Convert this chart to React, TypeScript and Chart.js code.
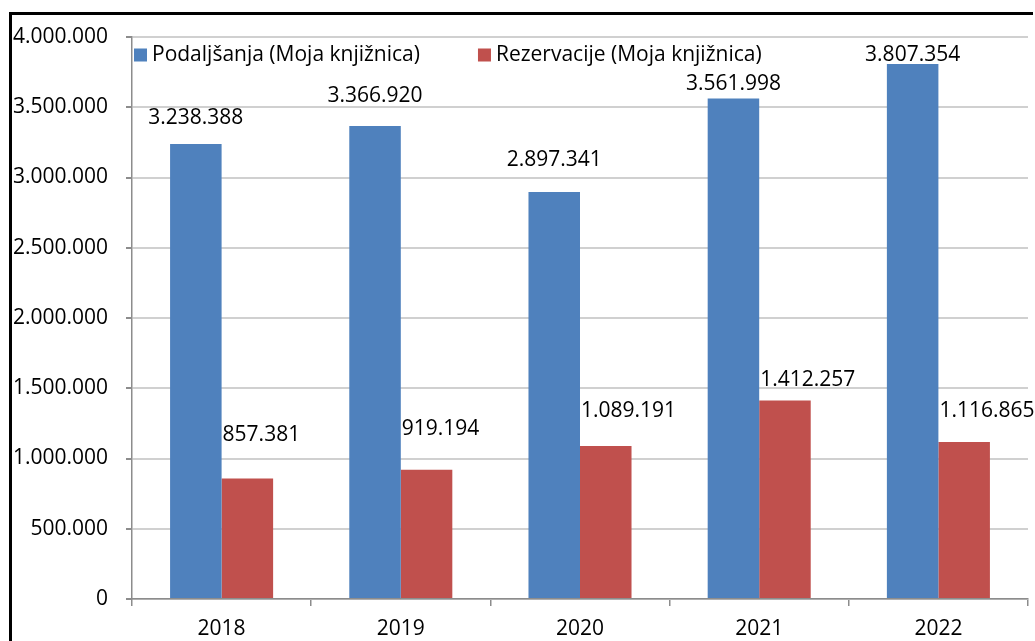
import React, { useEffect, useRef } from 'react';
import { Chart, registerables } from 'chart.js';

Chart.register(...registerables);

// ---- data ----
const categories = ['2018', '2019', '2020', '2021', '2022'];
const seriesNames = ['Podaljšanja (Moja knjižnica)', 'Rezervacije (Moja knjižnica)'];
const podaljsanja = [3238388, 3366920, 2897341, 3561998, 3807354];
const rezervacije = [857381, 919194, 1089191, 1412257, 1116865];
const yMin = 0;
const yMax = 4000000;
const yStep = 500000;

// ---- styles ----
const BLUE = '#4F81BD';
const RED = '#C0504D';
const FONT_FAMILY = '"Open Sans", "Noto Sans", sans-serif';
const FONT_SIZE = 21;
// manual label lift (px above bar top), as placed in the original
const blueLabelLift = [26, 30, 32, 15, 9];
const redLabelLift = [44, 41, 35, 21, 31];

const fmt = (v: number) => String(Math.round(v)).replace(/\B(?=(\d{3})+(?!\d))/g, '.');

const labelPlugin = {
  id: 'valueLabels',
  afterDatasetsDraw(chart: any) {
    const ctx = chart.ctx;
    ctx.save();
    ctx.font = `${FONT_SIZE}px ${FONT_FAMILY}`;
    ctx.fillStyle = '#000';
    ctx.textBaseline = 'middle';
    chart.data.datasets.forEach((ds: any, di: number) => {
      const meta = chart.getDatasetMeta(di);
      meta.data.forEach((bar: any, i: number) => {
        const { x, y, width } = bar.getProps(['x', 'y', 'width'], true);
        const text = fmt(ds.data[i]);
        if (di === 0) {
          ctx.textAlign = 'center';
          ctx.fillText(text, x, y - blueLabelLift[i]);
        } else {
          ctx.textAlign = 'left';
          ctx.fillText(text, x - width / 2 + 1, y - redLabelLift[i]);
        }
      });
    });
    ctx.restore();
  },
};

const legendPlugin = {
  id: 'innerLegend',
  afterDraw(chart: any) {
    const ctx = chart.ctx;
    const area = chart.chartArea;
    ctx.save();
    ctx.font = `${FONT_SIZE}px ${FONT_FAMILY}`;
    ctx.textBaseline = 'middle';
    ctx.textAlign = 'left';
    const box = 13;
    const cy = area.top + 18;
    let x = area.left + 2;
    chart.data.datasets.forEach((ds: any) => {
      ctx.fillStyle = ds.backgroundColor;
      ctx.fillRect(x, cy - box / 2, box, box);
      ctx.fillStyle = '#000';
      ctx.fillText(ds.label, x + box + 5, cy);
      const w = ctx.measureText(ds.label).width;
      x += box + 5 + w + 58;
    });
    ctx.restore();
  },
};

export default function App() {
  const ref = useRef<HTMLCanvasElement | null>(null);

  useEffect(() => {
    if (!ref.current) return;
    const chart = new Chart(ref.current, {
      type: 'bar',
      data: {
        labels: categories,
        datasets: [
          { label: seriesNames[0], data: podaljsanja, backgroundColor: BLUE, borderWidth: 0 },
          { label: seriesNames[1], data: rezervacije, backgroundColor: RED, borderWidth: 0 },
        ],
      },
      options: {
        responsive: false,
        animation: false,
        layout: { padding: { left: 0, top: 37, right: 7, bottom: 0 } },
        datasets: { bar: { categoryPercentage: 0.575, barPercentage: 1 } },
        plugins: {
          legend: { display: false },
          tooltip: { enabled: false },
        },
        scales: {
          x: {
            grid: {
              display: true,
              drawOnChartArea: false,
              drawTicks: true,
              tickLength: 7,
              tickColor: '#8c8c8c',
              lineWidth: 1.5,
              offset: true,
            },
            border: { color: '#8c8c8c', width: 1.5 },
            ticks: {
              color: '#000',
              font: { family: FONT_FAMILY, size: FONT_SIZE },
              padding: 10,
              maxRotation: 0,
            },
            afterFit: (scale: any) => {
              scale.height = 42;
            },
          },
          y: {
            min: yMin,
            max: yMax,
            grid: {
              color: '#d0d0d0',
              lineWidth: 2,
              tickColor: '#8c8c8c',
              tickLength: 6,
            },
            border: { color: '#8c8c8c', width: 1.5 },
            ticks: {
              stepSize: yStep,
              color: '#000',
              font: { family: FONT_FAMILY, size: FONT_SIZE },
              padding: 18,
              callback: (v: any) => fmt(Number(v)),
            },
            afterFit: (scale: any) => {
              scale.width = 132;
            },
          },
        },
      },
      plugins: [labelPlugin, legendPlugin],
    });
    return () => chart.destroy();
  }, []);

  return (
    <div style={{ position: 'absolute', left: 0, top: 0, width: 1035, height: 641, background: '#fff', overflow: 'hidden' }}>
      <canvas ref={ref} width={1035} height={641} style={{ display: 'block' }} />
      <div
        style={{
          position: 'absolute',
          left: 9,
          top: 12,
          width: 1024,
          height: 629,
          borderLeft: '3px solid #000',
          borderTop: '3px solid #000',
          boxSizing: 'border-box',
          pointerEvents: 'none',
        }}
      />
    </div>
  );
}
